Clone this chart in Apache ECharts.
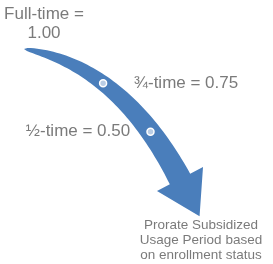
<!DOCTYPE html>
<html><head><meta charset="utf-8">
<script src="https://cdn.jsdelivr.net/npm/echarts@6/dist/echarts.min.js"></script>
<style>html,body{margin:0;padding:0;background:#fff}#c{width:273px;height:264px}</style>
</head><body><div id="c"></div>
<script>
// ---- data ----
const statusLabels = ['Full-time', '¾-time', '½-time'];
const statusValues = [1.00, 0.75, 0.50];
const outcomeLines = ['Prorate Subsidized', 'Usage Period based', 'on enrollment status'];

// ---- layout (coordinates on hidden pixel-like axes) ----
const arrow = { p0: [24, 49], c: [120, 65], p2: [180, 179], maxW: 23, headHalf: 26, headLen: 42 };
const markerT = [null, 0.45, 0.77];           // position along arrow for each status (null = no dot)
const labelPos = [[44, 24], [186, 83], [78, 131]];
const outcomePos = [201, 240];
const TEXT = '#595959', BLUE = '#4a7ebb';

function bez(t) {
  const a = (1 - t) * (1 - t), b = 2 * t * (1 - t), d = t * t;
  return [a * arrow.p0[0] + b * arrow.c[0] + d * arrow.p2[0],
          a * arrow.p0[1] + b * arrow.c[1] + d * arrow.p2[1]];
}
function tang(t) {
  const x = 2 * (1 - t) * (arrow.c[0] - arrow.p0[0]) + 2 * t * (arrow.p2[0] - arrow.c[0]);
  const y = 2 * (1 - t) * (arrow.c[1] - arrow.p0[1]) + 2 * t * (arrow.p2[1] - arrow.c[1]);
  const l = Math.hypot(x, y); return [x / l, y / l];
}
function arrowPolygon() {
  const N = 60, up = [], lo = [];
  for (let i = 0; i <= N; i++) {
    const t = i / N, p = bez(t), tg = tang(t), n = [tg[1], -tg[0]];
    const w = arrow.maxW * Math.sqrt(t) / 2;
    up.push([p[0] + n[0] * w, p[1] + n[1] * w]);
    lo.push([p[0] - n[0] * w, p[1] - n[1] * w]);
  }
  const B = arrow.p2, tg = tang(1), n = [tg[1], -tg[0]];
  const head = [
    [B[0] + n[0] * arrow.headHalf, B[1] + n[1] * arrow.headHalf],
    [B[0] + tg[0] * arrow.headLen, B[1] + tg[1] * arrow.headLen],
    [B[0] - n[0] * arrow.headHalf, B[1] - n[1] * arrow.headHalf]
  ];
  return up.concat(head, lo.reverse());
}

const dotData = [], labelData = [];
statusValues.forEach((v, i) => {
  if (markerT[i] !== null) dotData.push({ value: bez(markerT[i]), name: statusLabels[i] });
  const txt = i === 0 ? statusLabels[i] + ' =\n' + v.toFixed(2) : statusLabels[i] + ' = ' + v.toFixed(2);
  labelData.push({ value: labelPos[i], txt: txt });
});

const chart = echarts.init(document.getElementById('c'), null, { renderer: 'canvas' });
chart.setOption({
  animation: false,
  grid: { left: 0, right: 0, top: 0, bottom: 0 },
  xAxis: { type: 'value', min: 0, max: 273, show: false },
  yAxis: { type: 'value', min: 0, max: 264, inverse: true, show: false },
  series: [
    {
      type: 'custom', data: [[0, 0]],
      renderItem: function (params, api) {
        return { type: 'polygon', shape: { points: arrowPolygon().map(p => api.coord(p)) },
                 style: { fill: BLUE } };
      }, z: 1
    },
    {
      type: 'scatter', data: dotData, symbolSize: 7,
      itemStyle: { color: '#b9cde5', borderColor: '#ffffff', borderWidth: 1.5, opacity: 1 }, z: 2
    },
    {
      type: 'scatter', symbolSize: 1, itemStyle: { color: 'rgba(0,0,0,0)' },
      data: labelData.map(d => ({ value: d.value, label: { formatter: d.txt } })),
      label: { show: true, position: 'inside', align: 'center', verticalAlign: 'middle',
               fontFamily: 'Liberation Sans, Arial, sans-serif', fontSize: 17, lineHeight: 19, color: TEXT }, z: 3
    },
    {
      type: 'scatter', symbolSize: 1, itemStyle: { color: 'rgba(0,0,0,0)' },
      data: [{ value: outcomePos, label: { formatter: outcomeLines.join('\n') } }],
      label: { show: true, position: 'inside', align: 'center', verticalAlign: 'middle',
               fontFamily: 'Liberation Sans, Arial, sans-serif', fontSize: 13.5, lineHeight: 15, color: TEXT }, z: 3
    }
  ]
});
</script></body></html>
